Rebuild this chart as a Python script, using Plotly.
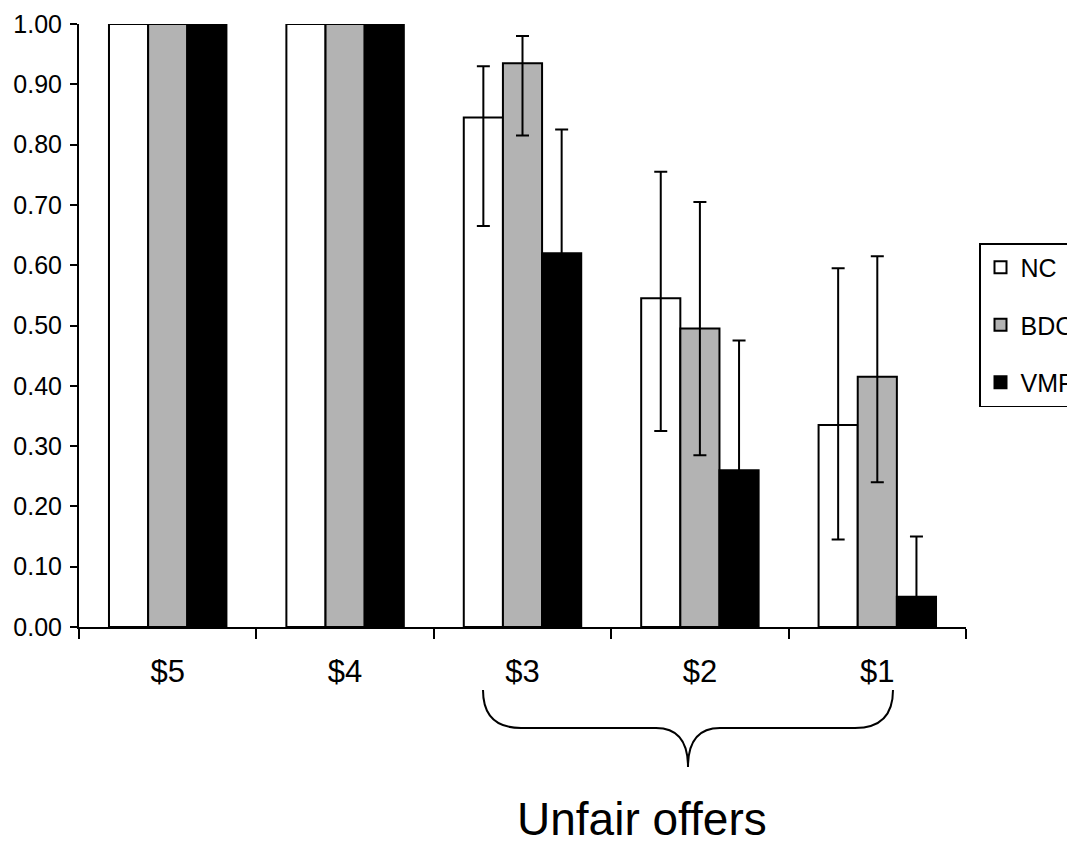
import plotly.graph_objects as go

categories = ["$5", "$4", "$3", "$2", "$1"]
series_names = ["NC", "BDC", "VMPC"]
nc = [1.00, 1.00, 0.845, 0.545, 0.335]
bdc = [1.00, 1.00, 0.935, 0.495, 0.415]
vmpc = [1.00, 1.00, 0.62, 0.26, 0.05]
nc_err_plus = [0, 0, 0.085, 0.21, 0.26]
nc_err_minus = [0, 0, 0.18, 0.22, 0.19]
bdc_err_plus = [0, 0, 0.045, 0.21, 0.20]
bdc_err_minus = [0, 0, 0.12, 0.21, 0.175]
vmpc_err_plus = [0, 0, 0.205, 0.215, 0.10]
vmpc_err_minus = [0, 0, 0.205, 0.215, 0.05]
y_ticks = [0.0, 0.1, 0.2, 0.3, 0.4, 0.5, 0.6, 0.7, 0.8, 0.9, 1.0]

W, H = 1075, 850
OFF = 8  # page body margin
L, R, T, B = 79, 966, 24, 627  # plot area in page pixels
FONT = "Liberation Sans, Arial, sans-serif"


def px(x):
    return (x - L) / (R - L)


def py(y):
    return (B - y) / (B - T)


fills = ["white", "#b3b3b3", "black"]
vals = [nc, bdc, vmpc]
eplus = [nc_err_plus, bdc_err_plus, vmpc_err_plus]
eminus = [nc_err_minus, bdc_err_minus, vmpc_err_minus]

fig = go.Figure()
for name, v, f, ep, em in zip(series_names, vals, fills, eplus, eminus):
    fig.add_trace(go.Bar(
        x=categories, y=v, name=name, legendgroup=name,
        marker=dict(color=f, line=dict(color="black", width=2)),
        error_y=dict(type="data", symmetric=False,
                     array=[e if e > 0 else None for e in ep],
                     arrayminus=[e if e > 0 else None for e in em],
                     color="black", thickness=2, width=6.5),
    ))

fig.update_layout(
    width=W, height=H,
    margin=dict(l=L - OFF, r=W - (R - OFF), t=T - OFF, b=H - (B - OFF),
                autoexpand=False),
    paper_bgcolor="white", plot_bgcolor="white",
    barmode="group", bargap=0.338, bargroupgap=0,
    font=dict(family=FONT, size=26, color="black"),
    showlegend=True,
    legend=dict(
        x=px(979), y=py(243), xanchor="left", yanchor="top",
        bordercolor="black", borderwidth=1.5, bgcolor="white",
        font=dict(size=25, family=FONT), itemwidth=30, tracegroupgap=22,
    ),
    xaxis=dict(
        type="category", showline=True, linecolor="black", linewidth=2,
        ticks="outside", tickson="boundaries", ticklen=10, tickcolor="black",
        tickwidth=2, showgrid=False, automargin=False, ticklabelstandoff=16,
        tickfont=dict(size=31, family=FONT),
    ),
    yaxis=dict(
        range=[0, 1.0], tickvals=y_ticks, tickformat=".2f",
        showline=True, linecolor="black", linewidth=2,
        ticks="outside", ticklen=7, tickcolor="black", tickwidth=2,
        showgrid=False, zeroline=False, automargin=False, ticklabelstandoff=3,
        tickfont=dict(size=25, family=FONT),
    ),
)

# curly brace under the unfair offers
xl, xr, xm = 483, 893, 688
ytop, ymid, ybot = 690, 728, 767
path = (
    f"M {px(xl)},{py(ytop)} "
    f"Q {px(xl)},{py(ymid)} {px(xl + 38)},{py(ymid)} "
    f"L {px(xm - 32)},{py(ymid)} "
    f"Q {px(xm)},{py(ymid)} {px(xm)},{py(ybot)} "
    f"Q {px(xm)},{py(ymid)} {px(xm + 32)},{py(ymid)} "
    f"L {px(xr - 38)},{py(ymid)} "
    f"Q {px(xr)},{py(ymid)} {px(xr)},{py(ytop)}"
)
fig.add_shape(type="path", xref="paper", yref="paper", path=path,
              line=dict(color="black", width=2))

fig.add_annotation(
    x=px(642), y=py(819), xref="paper", yref="paper",
    text="Unfair offers", showarrow=False, yanchor="middle",
    font=dict(size=46, family=FONT, color="black"),
)

fig.write_html("out.html")
